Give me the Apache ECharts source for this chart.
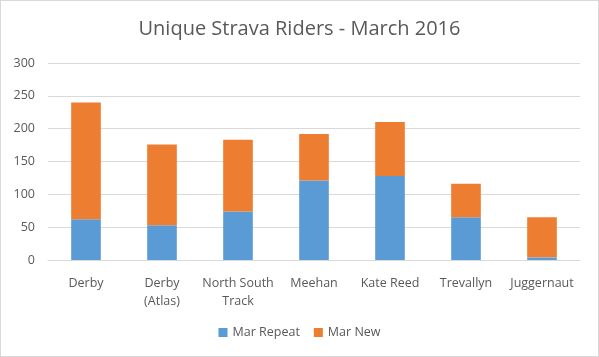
<!DOCTYPE html>
<html>
<head>
<meta charset="utf-8">
<script src="https://cdn.jsdelivr.net/npm/echarts@6/dist/echarts.min.js"></script>
<style>
html,body{margin:0;padding:0;background:#fff;}
#c{width:599px;height:357px;box-sizing:border-box;border:1px solid #d9d9d9;}
</style>
</head>
<body>
<div id="c"></div>
<script>
const categories = ["Derby", "Derby\n(Atlas)", "North South\nTrack", "Meehan", "Kate Reed", "Trevallyn", "Juggernaut"];
const marRepeat = [62, 53, 74, 121, 128, 65, 4];
const marNew = [178, 123, 109, 71, 82, 51, 61];
const yTicks = { min: 0, max: 300, interval: 50 };

const chart = echarts.init(document.getElementById('c'));
const font = '"Open Sans", "Noto Sans", sans-serif';
chart.setOption({
  animation: false,
  textStyle: { fontFamily: font },
  title: {
    text: 'Unique Strava Riders - March 2016',
    left: 'center', top: 13,
    textStyle: { fontFamily: font, fontSize: 20, fontWeight: 'normal', color: '#595959' }
  },
  legend: {
    bottom: 12, left: 'center',
    itemWidth: 9, itemHeight: 9, itemGap: 14,
    icon: 'rect',
    textStyle: { fontFamily: font, fontSize: 12.5, color: '#595959' },
    data: ['Mar Repeat', 'Mar New']
  },
  grid: { left: 47, right: 18, top: 62, bottom: 96 },
  xAxis: {
    type: 'category', data: categories,
    axisLine: { lineStyle: { color: '#d9d9d9' } },
    axisTick: { show: false },
    axisLabel: { fontFamily: font, fontSize: 12.5, color: '#595959', margin: 14, lineHeight: 18, interval: 0 }
  },
  yAxis: {
    type: 'value', min: yTicks.min, max: yTicks.max, interval: yTicks.interval,
    axisLine: { show: false }, axisTick: { show: false },
    splitLine: { lineStyle: { color: '#d9d9d9' } },
    axisLabel: { fontFamily: font, fontSize: 12.5, color: '#595959', margin: 13 }
  },
  series: [
    { name: 'Mar Repeat', type: 'bar', stack: 'a', data: marRepeat, barWidth: '39%', itemStyle: { color: '#5B9BD5' } },
    { name: 'Mar New', type: 'bar', stack: 'a', data: marNew, barWidth: '39%', itemStyle: { color: '#ED7D31' } }
  ]
});
</script>
</body>
</html>
